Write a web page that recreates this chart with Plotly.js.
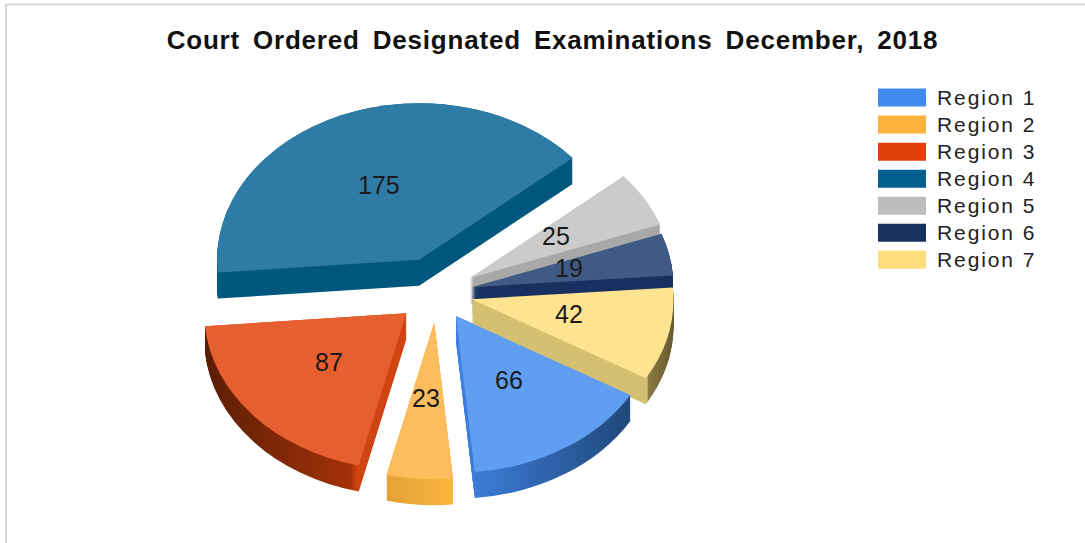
<!DOCTYPE html>
<html>
<head>
<meta charset="utf-8">
<script src="https://cdn.plot.ly/plotly-3.0.1.min.js"></script>
<style>html,body{margin:0;padding:0;background:#fff}#chart{width:1085px;height:543px}</style>
</head>
<body>
<div id="chart"></div>
<script>
const chartTitle = 'Court Ordered Designated Examinations December, 2018';
const regions = ['Region 1','Region 2','Region 3','Region 4','Region 5','Region 6','Region 7'];
const examinations = [66,23,87,175,25,19,42];
const explode = [0.175,0.19,0.2,0.23,0.19,0.175,0.175];
const legendColors = ['#4289ee','#fdb13f','#e0400a','#005f8f','#bdbdbd','#17325f','#fedd7c'];
const topColors = ['#5f9ef0','#fdbd5f','#e55f30','#2e7ba5','#cbcbcb','#3f5b85','#fee391'];
const wallStops = [
  [[0,'#3f82e2'],[1,'#20487a']],
  [[0,'#e3a138'],[1,'#fbb63e']],
  [[0,'#5a1e05'],[0.72,'#a33208'],[0.76,'#cf4410'],[1,'#cf4410']],
  [[0,'#00587f'],[1,'#00567c']],
  [[0,'#a8a8a8'],[1,'#a8a8a8']],
  [[0,'#17305f'],[1,'#17305f']],
  [[0,'#d5c072'],[0.87,'#d5c072'],[0.875,'#8a7a42'],[1,'#655a30']]
];

const W = 1085, H = 543;
const cx = 437, cy = 293, R = 202, tilt = 0.775, depth = 26, startAngle = 120.3;
const size = 2 * R * (1 + Math.max(...explode));
const domain = {x:[(cx - size/2)/W,(cx + size/2)/W], y:[(H/2 - size/2)/H,(H/2 + size/2)/H]};

function pie(colors, showlegend) {
  return {type:'pie', labels:regions, values:examinations, sort:false, direction:'clockwise',
    rotation:startAngle, pull:explode, domain:domain, textinfo:'none', hoverinfo:'skip',
    showlegend:showlegend, marker:{colors:colors, line:{width:0}}};
}
const traces = [pie(legendColors,true)];
const wallColors = wallStops.map(s => s[0][1]);
for (let k = depth; k > 0; k--) traces.push(pie(wallColors,false));
traces.push(pie(topColors,false));

const total = examinations.reduce((a,b)=>a+b,0);
let running = startAngle;
const annotations = examinations.map((v,i) => {
  const mid = (running + v/total*180) * Math.PI/180;
  running += v/total*360;
  const r = (explode[i] + 0.5) * R;
  return {xref:'paper', yref:'paper', showarrow:false, text:String(v),
    x:(cx - 1 + Math.sin(mid)*r)/W, y:1 - (cy - 2.5 - Math.cos(mid)*r*tilt)/H,
    xanchor:'center', yanchor:'middle', font:{family:'Liberation Sans, Arial, sans-serif', size:25, color:'#1a1a1a'}};
});

const layout = {
  width:W, height:H, margin:{l:0,r:0,t:0,b:0}, paper_bgcolor:'#ffffff',
  title:{text:chartTitle, x:552.5/W, xanchor:'center', y:1-40/H, yanchor:'middle',
    font:{family:'Liberation Sans, Arial, sans-serif', size:26, weight:700, color:'#111111'}},
  legend:{x:873/W, xanchor:'left', y:1-79/H, yanchor:'top', itemwidth:48, traceorder:'normal',
    font:{family:'Liberation Sans, Arial, sans-serif', size:18.5, color:'#222222'}, bgcolor:'rgba(0,0,0,0)'},
  annotations:annotations,
  shapes:[
    {type:'line', xref:'paper', yref:'paper', x0:6/W, x1:6/W, y0:0, y1:1-4.5/H, line:{color:'#d6d6d6',width:2}},
    {type:'line', xref:'paper', yref:'paper', x0:5/W, x1:1, y0:1-4.5/H, y1:1-4.5/H, line:{color:'#d6d6d6',width:2}}
  ]
};

Plotly.newPlot('chart', traces, layout, {displayModeBar:false, staticPlot:true}).then(gd => {
  const svg = gd.querySelector('svg.main-svg');
  const NS = 'http://www.w3.org/2000/svg';
  const defs = svg.querySelector('defs') || svg.insertBefore(document.createElementNS(NS,'defs'), svg.firstChild);
  wallStops.forEach((stops,i) => {
    const g = document.createElementNS(NS,'linearGradient');
    g.setAttribute('id','wall'+i);
    stops.forEach(s => {
      const st = document.createElementNS(NS,'stop');
      st.setAttribute('offset',s[0]); st.setAttribute('stop-color',s[1]);
      g.appendChild(st);
    });
    defs.appendChild(g);
  });
  const groups = gd.querySelectorAll('.pielayer .trace');
  groups.forEach((g,t) => {
    const level = (t === 0 || t === groups.length-1) ? 0 : depth + 1 - t;
    g.setAttribute('transform', `translate(0,${cy + level}) scale(1,${tilt}) translate(0,${-H/2})`);
    if (t > 0 && t < groups.length-1) {
      g.querySelectorAll('path.surface').forEach((p,i) => { p.style.fill = `url(#wall${i})`; });
    }
  });
  gd.querySelectorAll('.legendpie, .legendpoints path').forEach(p => {
    p.setAttribute('d','M24,9H-24V-9H24Z');
    p.style.strokeWidth = '0';
  });
  gd.querySelectorAll('.legendtext').forEach(t => {
    t.style.letterSpacing = '1.9px';
    t.style.fontSize = '21px';
    t.setAttribute('x', parseFloat(t.getAttribute('x')) + 6);
  });
  const scroll = gd.querySelector('.legend .scrollbox');
  if (scroll) scroll.removeAttribute('clip-path');
  const tt = gd.querySelector('.gtitle');
  if (tt) { tt.style.letterSpacing = '0.8px'; tt.style.wordSpacing = '5px'; }
});
</script>
</body>
</html>
